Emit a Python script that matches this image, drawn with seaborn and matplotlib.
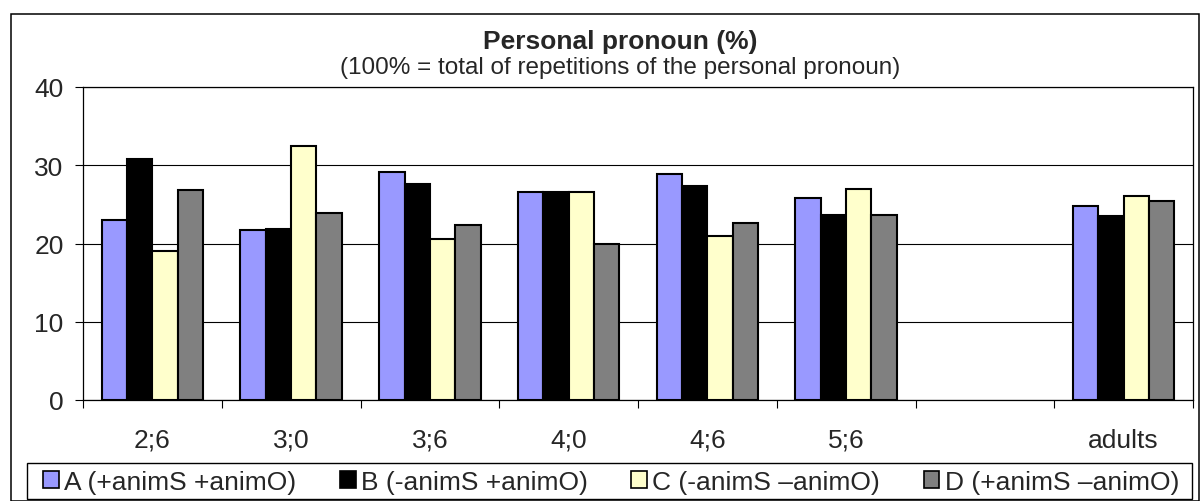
import pandas as pd
import matplotlib
matplotlib.use("Agg")
import matplotlib.pyplot as plt
from matplotlib.patches import Patch, Rectangle
import seaborn as sns

# --- data ---
ages = ["2;6", "3;0", "3;6", "4;0", "4;6", "5;6", "adults"]
order = ["2;6", "3;0", "3;6", "4;0", "4;6", "5;6", " ", "adults"]
series = ["A (+animS +animO)", "B (-animS +animO)",
          "C (-animS \u2013animO)", "D (+animS \u2013animO)"]
vals_a = [23.0, 21.7, 29.2, 26.6, 28.9, 25.8, 24.8]
vals_b = [30.8, 21.8, 27.6, 26.6, 27.4, 23.6, 23.5]
vals_c = [19.1, 32.5, 20.6, 26.6, 21.0, 27.0, 26.1]
vals_d = [26.9, 23.9, 22.4, 20.0, 22.6, 23.6, 25.4]
colors = ["#9999FF", "#000000", "#FFFFCC", "#808080"]

rows = []
for name, vals in zip(series, [vals_a, vals_b, vals_c, vals_d]):
    for age, v in zip(ages, vals):
        rows.append({"age": age, "group": name, "pct": v})
df = pd.DataFrame(rows)

sns.set_theme(style="white")
plt.rcParams["font.family"] = ["Liberation Sans", "DejaVu Sans"]

W, H = 1200, 502
fig = plt.figure(figsize=(W / 100, H / 100), dpi=100)
ax = fig.add_axes([83 / W, 1 - 401 / H, (1193 - 83) / W, (401 - 88) / H])

sns.barplot(data=df, x="age", y="pct", hue="group", order=order,
            hue_order=series, palette=dict(zip(series, colors)),
            width=0.73, errorbar=None, edgecolor="black", linewidth=1.5,
            saturation=1, ax=ax, zorder=3)
ax.get_legend().remove()

ax.set_ylim(0, 40)
ax.set_yticks([0, 10, 20, 30, 40])
ax.set_xlim(-0.5, len(order) - 0.5)
ax.set_xlabel("")
ax.set_ylabel("")
ax.yaxis.grid(True, color="black", linewidth=0.8, zorder=0)
ax.set_axisbelow(True)
for s in ax.spines.values():
    s.set_visible(True)
    s.set_color("black")
    s.set_linewidth(0.9)

ax.tick_params(axis="y", left=True, length=6, width=0.8, color="black",
               pad=8, labelsize=19, direction="out")
ax.tick_params(axis="x", which="major", length=0, pad=20, labelsize=19)
ax.set_xticks([i - 0.5 for i in range(len(order) + 1)], minor=True)
ax.tick_params(axis="x", which="minor", bottom=True, length=6, width=0.8,
               color="black", direction="out")

# titles, placed on their baselines
fig.text(620 / W, 1 - 49 / H, "Personal pronoun (%)", ha="center",
         va="baseline", fontsize=19, fontweight="bold")
fig.text(620 / W, 1 - 74 / H,
         "(100% = total of repetitions of the personal pronoun)",
         ha="center", va="baseline", fontsize=17.5)

# legend box along the bottom
handles = [Patch(facecolor=c, edgecolor="black", linewidth=1.2) for c in colors]
fig.legend(handles, series, loc="center", ncol=4,
           bbox_to_anchor=(611 / W, 1 - 483 / H),
           fontsize=19, handlelength=0.6, handleheight=0.6,
           handletextpad=0.2, columnspacing=1.65, borderpad=0,
           frameon=False)
fig.patches.append(Rectangle((27 / W, 1 - 500 / H), (1192 - 27) / W, 36 / H,
                             transform=fig.transFigure, fill=False,
                             edgecolor="black", linewidth=1.0))

# outer chart border
fig.patches.append(Rectangle((11 / W, 0.5 / H), (1199 - 11) / W, (H - 15.5) / H,
                             transform=fig.transFigure, fill=False,
                             edgecolor="black", linewidth=1.1))

fig.savefig("out.png", dpi=100)
